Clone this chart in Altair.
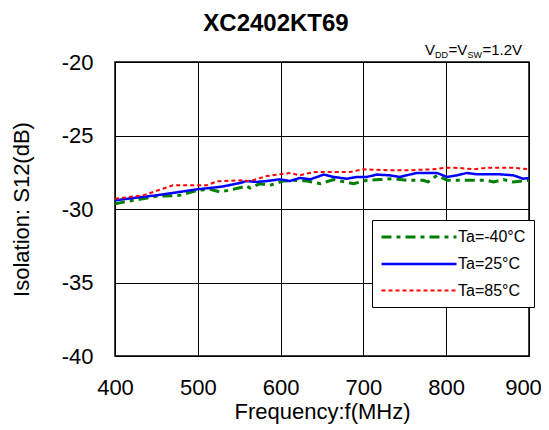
import altair as alt
import pandas as pd

f_m40 = [400,422,450,478,499,515,527,543,559,563,575,587,603,615,632,648,664,688,704,720,736,752,772,778,789,801,825,849,857,869,881,900]
v_m40 = [-29.64,-29.41,-29.14,-29.07,-28.73,-28.66,-28.84,-28.66,-28.43,-28.57,-28.28,-28.39,-28.10,-28.05,-28.10,-28.28,-28.00,-28.28,-28.05,-28.00,-27.94,-28.05,-28.05,-28.16,-27.71,-28.05,-28.05,-28.05,-28.16,-28.00,-28.16,-28.05]

f_25 = [400,422,450,478,499,515,531,551,559,571,583,599,611,623,636,652,664,680,692,704,716,732,744,764,789,801,813,825,837,865,881,893,900]
v_25 = [-29.41,-29.25,-29.07,-28.84,-28.66,-28.57,-28.46,-28.23,-28.10,-28.16,-28.10,-27.98,-28.10,-27.89,-27.98,-27.66,-27.82,-27.94,-27.82,-27.82,-27.66,-27.71,-27.82,-27.55,-27.55,-27.82,-27.71,-27.55,-27.64,-27.64,-27.71,-27.94,-27.89]

f_85 = [400,434,470,511,523,551,563,583,611,623,640,656,684,700,732,752,784,801,817,833,849,881,900]
v_85 = [-29.30,-29.07,-28.39,-28.39,-28.12,-28.05,-28.10,-27.76,-27.55,-27.71,-27.48,-27.48,-27.48,-27.30,-27.37,-27.37,-27.30,-27.19,-27.21,-27.30,-27.19,-27.19,-27.30]

series = ["Ta=-40°C", "Ta=25°C", "Ta=85°C"]
colors = ["#008000", "#0000FF", "#FF0000"]
dashes = [[10, 5, 4, 5], [1, 0], [4, 3]]
widths = [3, 2, 2]

rows = []
for name, fs, vs in zip(series, [f_m40, f_25, f_85], [v_m40, v_25, v_85]):
    for i, (f, v) in enumerate(zip(fs, vs)):
        rows.append({"freq": f, "val": v, "series": name, "order": i})
df = pd.DataFrame(rows)

FONT = "Liberation Sans"

lines = alt.Chart(df).mark_line(clip=True).encode(
    x=alt.X("freq:Q", scale=alt.Scale(domain=[400, 900], nice=False),
            axis=alt.Axis(values=[400, 500, 600, 700, 800, 900], title="Frequency:f(MHz)",
                          labelPadding=21, titlePadding=3, labelFlush=False,
                          labelOffset={"condition": {"test": "datum.value == 900", "value": -6}, "value": 0})),
    y=alt.Y("val:Q", scale=alt.Scale(domain=[-40, -20], nice=False),
            axis=alt.Axis(values=[-40, -35, -30, -25, -20], title="Isolation: S12(dB)",
                          labelExpr="'' + datum.value",
                          labelPadding=22, titlePadding=28)),
    color=alt.Color("series:N", scale=alt.Scale(domain=series, range=colors),
                    legend=alt.Legend(title=None, orient="none", legendX=257, legendY=158,
                                      symbolType="M-5,0H5", symbolSize=225, symbolStrokeWidth=2,
                                      symbolOffset=30, labelOffset=30,
                                      labelFontSize=16, labelFont=FONT, labelColor="black",
                                      strokeColor="black", fillColor="white", padding=8,
                                      rowPadding=10, cornerRadius=0)),
    strokeDash=alt.StrokeDash("series:N", scale=alt.Scale(domain=series, range=dashes), legend=None),
    strokeWidth=alt.StrokeWidth("series:N", scale=alt.Scale(domain=series, range=widths), legend=None),
    order="order:Q",
)

def txt(s, x, y, size, weight="normal"):
    return alt.Chart(pd.DataFrame({"t": [s]})).mark_text(
        align="left", baseline="alphabetic", fontSize=size, font=FONT, fontWeight=weight, color="black"
    ).encode(x=alt.value(x), y=alt.value(y), text="t:N")

title = alt.Chart(pd.DataFrame({"t": ["XC2402KT69"]})).mark_text(
    align="center", baseline="alphabetic", fontSize=24, font=FONT, fontWeight="bold", color="black"
).encode(x=alt.value(161), y=alt.value(-31), text="t:N")

sub = [
    txt("V", 310, -7, 15),
    txt("DD", 320, -4.5, 9),
    txt("=V", 333.5, -7, 15),
    txt("SW", 352.5, -4.5, 9),
    txt("=1.2V", 367.5, -7, 15),
]

chart = alt.layer(lines, title, *sub).properties(
    width=414, height=294,
    autosize=alt.AutoSizeParams(type="none"),
    padding={"left": 107, "top": 54, "right": 12, "bottom": 70},
).configure_view(stroke="black", strokeWidth=1.5).configure_axis(
    grid=True, gridColor="black", gridOpacity=1, gridWidth=1,
    domain=False, ticks=False,
    labelFont=FONT, labelFontSize=22, labelColor="black",
    titleFont=FONT, titleFontSize=22, titleFontWeight="normal", titleColor="black",
)

chart.save("out.html", embed_options={"renderer": "svg", "actions": False})
